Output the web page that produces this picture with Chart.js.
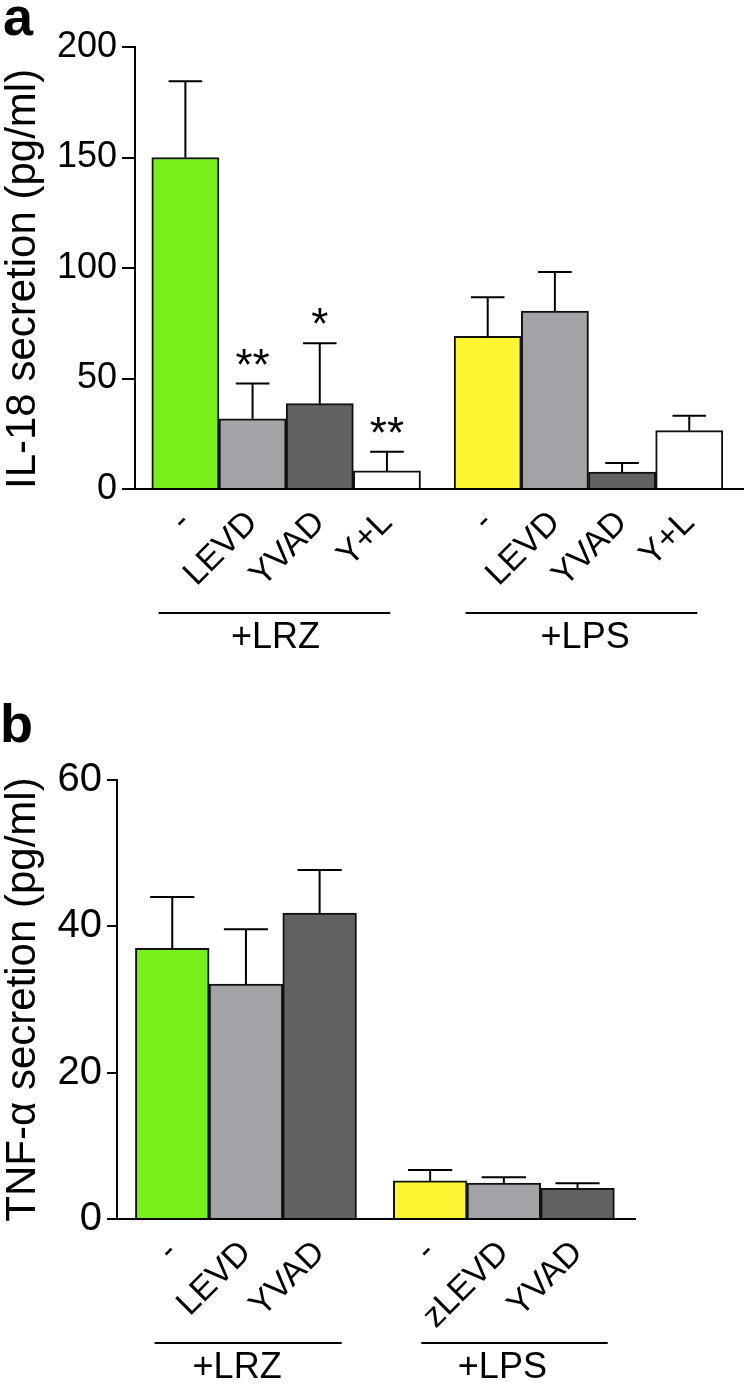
<!DOCTYPE html>
<html>
<head>
<meta charset="utf-8">
<script src="https://cdn.jsdelivr.net/npm/chart.js@4.4.1/dist/chart.umd.min.js"></script>
<style>
  html, body { margin: 0; padding: 0; background: #fff; }
  canvas { position: absolute; left: 0; }
  #chartA { top: 0; }
  #chartB { top: 650px; }
</style>
</head>
<body>
<canvas id="chartA" width="747" height="650"></canvas>
<canvas id="chartB" width="747" height="735"></canvas>
<script>
// panel a: IL-18
const labelsA = ['-', 'LEVD', 'YVAD', 'Y+L', '-', 'LEVD', 'YVAD', 'Y+L'];
const groupsA = ['+LRZ', '+LPS'];
const valuesA = [150, 31.8, 38.6, 8.2, 69.1, 80.5, 7.7, 26.4];
const errorsA = [34.5, 15.9, 27.3, 8.6, 17.7, 17.7, 4.1, 6.8];
const starsA = ['', '**', '*', '**', '', '', '', ''];
const yTicksA = [0, 50, 100, 150, 200];

// panel b: TNF-alpha
const labelsB = ['-', 'LEVD', 'YVAD', '-', 'zLEVD', 'YVAD'];
const groupsB = ['+LRZ', '+LPS'];
const valuesB = [37.0, 32.1, 41.8, 5.2, 4.9, 4.2];
const errorsB = [7.0, 7.5, 5.9, 1.5, 0.8, 0.7];
const yTicksB = [0, 20, 40, 60];

const FONT = "'Liberation Sans', Arial, Helvetica, sans-serif";
Chart.defaults.font.family = FONT;
Chart.defaults.color = '#000';

const GREEN = '#77f01a', LIGHT = '#a3a2a7', DARK = '#626262', YELLOW = '#fff533', WHITE = '#ffffff';
const colorsA = [GREEN, LIGHT, DARK, WHITE, YELLOW, LIGHT, DARK, WHITE];
const colorsB = [GREEN, LIGHT, DARK, YELLOW, LIGHT, DARK];

// bars sit one unit apart, with half a unit between the two groups
function barPositions(groupSize, nGroups) {
  const xs = [];
  for (let g = 0; g < nGroups; g++)
    for (let j = 0; j < groupSize; j++) xs.push(g * (groupSize + 0.5) + j);
  return xs;
}

const figurePlugin = {
  id: 'figure',
  afterDatasetsDraw(chart, args, opts) {
    const ctx = chart.ctx;
    const meta = chart.getDatasetMeta(0);
    const xScale = chart.scales.x, yScale = chart.scales.y;
    const data = chart.data.datasets[0].data;
    ctx.save();
    ctx.strokeStyle = '#000';
    ctx.fillStyle = '#000';
    ctx.lineWidth = 2;
    // error bars (upper side only) and significance stars
    meta.data.forEach((bar, i) => {
      const top = yScale.getPixelForValue(data[i].y + opts.errors[i]);
      const half = bar.width * opts.capRatio / 2;
      ctx.beginPath();
      ctx.moveTo(bar.x, bar.y);
      ctx.lineTo(bar.x, top);
      ctx.moveTo(bar.x - half, top);
      ctx.lineTo(bar.x + half, top);
      ctx.stroke();
      if (opts.stars && opts.stars[i]) {
        ctx.font = '44px ' + FONT;
        ctx.textAlign = 'center';
        ctx.textBaseline = 'alphabetic';
        ctx.fillText(opts.stars[i], bar.x, top - 4);
      }
    });
    // treatment group lines under the tick labels
    const base = chart.chartArea.bottom;
    ctx.font = '36px ' + FONT;
    ctx.textAlign = 'center';
    ctx.textBaseline = 'middle';
    opts.groups.forEach((g, k) => {
      const sp = opts.spans[k];
      ctx.beginPath();
      ctx.moveTo(xScale.getPixelForValue(sp.from), base + 124);
      ctx.lineTo(xScale.getPixelForValue(sp.to), base + 124);
      ctx.stroke();
      ctx.fillText(g, xScale.getPixelForValue(sp.text), base + 149);
    });
    // panel letter
    ctx.font = 'bold 54px ' + FONT;
    ctx.textAlign = 'left';
    ctx.textBaseline = 'alphabetic';
    ctx.fillText(opts.letter, opts.letterX, opts.letterY);
    ctx.restore();
  }
};

function makeChart(id, cfg) {
  const xs = barPositions(cfg.groupSize, 2);
  return new Chart(document.getElementById(id), {
    type: 'bar',
    data: {
      datasets: [{
        data: xs.map((x, i) => ({ x: x, y: cfg.values[i] })),
        backgroundColor: cfg.colors,
        borderColor: '#111',
        borderWidth: 2,
        barPercentage: 1,
        categoryPercentage: 1
      }]
    },
    plugins: [figurePlugin],
    options: {
      responsive: false,
      animation: false,
      layout: { padding: cfg.padding },
      plugins: {
        legend: { display: false },
        tooltip: { enabled: false },
        figure: {
          errors: cfg.errors,
          stars: cfg.stars,
          capRatio: cfg.capRatio,
          groups: cfg.groups,
          spans: cfg.spans,
          letter: cfg.letter,
          letterX: cfg.letterX,
          letterY: cfg.letterY
        }
      },
      scales: {
        x: {
          type: 'linear',
          offset: false,
          min: cfg.xMin,
          max: cfg.xMax,
          grid: { display: false },
          border: { display: true, color: '#000', width: 2 },
          afterBuildTicks: s => { s.ticks = xs.map(v => ({ value: v })); },
          ticks: {
            autoSkip: false,
            minRotation: 45,
            maxRotation: 45,
            padding: 6,
            font: { size: 34 },
            callback: (v, i) => cfg.labels[i]
          },
          afterFit: s => { s.height = cfg.xHeight; s.paddingLeft = 0; s.paddingRight = 0; }
        },
        y: {
          min: 0,
          max: cfg.yTicks[cfg.yTicks.length - 1],
          afterBuildTicks: s => { s.ticks = cfg.yTicks.map(v => ({ value: v })); },
          grid: { drawOnChartArea: false, color: '#000', lineWidth: 2, tickLength: cfg.tickLen },
          border: { color: '#000', width: 2 },
          ticks: { padding: 5, font: { size: cfg.yFont } },
          title: {
            display: true, text: cfg.title, align: cfg.titleAlign,
            font: { size: 42, lineHeight: 1.1 }, padding: 0
          },
          afterFit: s => { s.width = cfg.yWidth; }
        }
      }
    }
  });
}

makeChart('chartA', {
  groupSize: 4, values: valuesA, errors: errorsA, stars: starsA, colors: colorsA,
  labels: labelsA, groups: groupsA, yTicks: yTicksA,
  title: 'IL-18 secretion (pg/ml)', titleAlign: 'start',
  spans: [{ from: -0.4, to: 3.05, text: 1.34 }, { from: 4.17, to: 7.62, text: 5.95 }],
  capRatio: 0.5, xMin: -0.75, xMax: 8.3, xHeight: 161, yWidth: 135, tickLen: 13, yFont: 36,
  padding: { top: 47, right: 4, bottom: 0, left: 0 },
  letter: 'a', letterX: 3, letterY: 35
});

makeChart('chartB', {
  groupSize: 3, values: valuesB, errors: errorsB, stars: null, colors: colorsB,
  labels: labelsB, groups: groupsB, yTicks: yTicksB,
  title: 'TNF-\u03b1 secretion (pg/ml)', titleAlign: 'center',
  spans: [{ from: -0.24, to: 2.3, text: 0.88 }, { from: 3.38, to: 5.91, text: 4.48 }],
  capRatio: 0.6, xMin: -0.75, xMax: 6.28, xHeight: 166, yWidth: 117, tickLen: 10, yFont: 40,
  padding: { top: 130, right: 112, bottom: 0, left: 0 },
  letter: 'b', letterX: 0, letterY: 92
});
</script>
</body>
</html>
